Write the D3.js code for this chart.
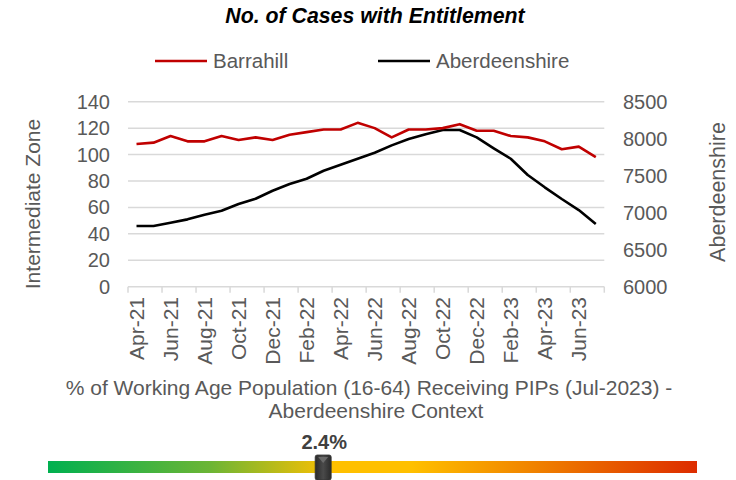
<!DOCTYPE html>
<html>
<head>
<meta charset="utf-8">
<script src="https://cdn.jsdelivr.net/npm/d3@7"></script>
<style>
  html, body { margin: 0; padding: 0; background: #fff; }
  svg { display: block; font-family: "Liberation Sans", Arial, sans-serif; }
</style>
</head>
<body>
<svg id="chart" width="736" height="480"></svg>
<script>
const months = ["Apr-21","May-21","Jun-21","Jul-21","Aug-21","Sep-21","Oct-21","Nov-21","Dec-21","Jan-22","Feb-22","Mar-22",
  "Apr-22","May-22","Jun-22","Jul-22","Aug-22","Sep-22","Oct-22","Nov-22","Dec-22","Jan-23","Feb-23","Mar-23",
  "Apr-23","May-23","Jun-23","Jul-23"];
const barrahill = [108,109,114,110,110,114,111,113,111,115,117,119,119,124,120,113,119,119,120,123,118,118,114,113,110,104,106,98];
const aberdeenshire = [6820,6820,6865,6910,6973,7027,7117,7189,7297,7387,7459,7567,7648,7729,7810,7910,7995,8060,8117,8117,8018,7870,7729,7509,7343,7185,7036,6847];
const leftTicks = [0,20,40,60,80,100,120,140];
const rightTicks = [6000,6500,7000,7500,8000,8500];
const seriesNames = ["Barrahill","Aberdeenshire"];
const contextValue = "2.4%";
const contextFraction = 0.424;

const svg = d3.select("#chart");
const textCol = "#595959";

const x = d3.scaleBand().domain(months).range([128, 604.3]).padding(0);
const yL = d3.scaleLinear().domain([0,140]).range([286.7, 101.7]);
const yR = d3.scaleLinear().domain([6000,8500]).range([286.7, 101.7]);
const cx = m => x(m) + x.bandwidth()/2;

// gridlines
svg.append("g").selectAll("line").data(leftTicks).join("line")
  .attr("x1", 128).attr("x2", 604.3)
  .attr("y1", d => yL(d)).attr("y2", d => yL(d))
  .attr("stroke", "#d9d9d9").attr("stroke-width", 1.5);

// x tick marks at boundaries every 2 categories
const bounds = d3.range(0, months.length + 1, 2);
svg.append("g").selectAll("line").data(bounds).join("line")
  .attr("x1", k => 128 + k * x.bandwidth()).attr("x2", k => 128 + k * x.bandwidth())
  .attr("y1", yL(0)).attr("y2", yL(0) + 6)
  .attr("stroke", "#d9d9d9").attr("stroke-width", 1.5);

// left tick labels
svg.append("g").selectAll("text").data(leftTicks).join("text")
  .attr("x", 110).attr("y", d => yL(d)).attr("dy", "0.35em")
  .attr("text-anchor", "end").attr("font-size", 20).attr("fill", textCol)
  .text(d => d);

// right tick labels
svg.append("g").selectAll("text").data(rightTicks).join("text")
  .attr("x", 623).attr("y", d => yR(d)).attr("dy", "0.35em")
  .attr("text-anchor", "start").attr("font-size", 20).attr("fill", textCol)
  .text(d => d);

// x labels
svg.append("g").selectAll("text").data(months.filter((m,i) => i % 2 === 0)).join("text")
  .attr("transform", m => `translate(${cx(m)},297) rotate(-90)`)
  .attr("dy", "0.35em").attr("text-anchor", "end")
  .attr("font-size", 21).attr("fill", textCol)
  .text(m => m);

// axis titles
svg.append("text").attr("transform", "translate(33,204) rotate(-90)")
  .attr("dy", "0.35em").attr("text-anchor", "middle")
  .attr("font-size", 21).attr("fill", textCol).text("Intermediate Zone");
svg.append("text").attr("transform", "translate(717,192) rotate(-90)")
  .attr("dy", "0.35em").attr("text-anchor", "middle")
  .attr("font-size", 21.5).attr("fill", textCol).text("Aberdeenshire");

// lines
const lineL = d3.line().x((d,i) => cx(months[i])).y(d => yL(d));
const lineR = d3.line().x((d,i) => cx(months[i])).y(d => yR(d));
svg.append("path").datum(aberdeenshire).attr("d", lineR)
  .attr("fill", "none").attr("stroke", "#000").attr("stroke-width", 2.6).attr("stroke-linejoin", "round");
svg.append("path").datum(barrahill).attr("d", lineL)
  .attr("fill", "none").attr("stroke", "#c00000").attr("stroke-width", 2.6).attr("stroke-linejoin", "round");

// title
svg.append("text").attr("x", 375).attr("y", 23).attr("text-anchor", "middle")
  .attr("font-size", 21.3).attr("font-weight", "bold").attr("font-style", "italic")
  .attr("fill", "#000").text("No. of Cases with Entitlement");

// legend
const leg = [{n: seriesNames[0], c: "#c00000", x: 155}, {n: seriesNames[1], c: "#000", x: 378}];
const lg = svg.append("g").selectAll("g").data(leg).join("g");
lg.append("line").attr("x1", d => d.x).attr("x2", d => d.x + 52).attr("y1", 61).attr("y2", 61)
  .attr("stroke", d => d.c).attr("stroke-width", 2.6);
lg.append("text").attr("x", d => d.x + 58).attr("y", 61).attr("dy", "0.35em")
  .attr("font-size", 20.5).attr("fill", textCol).text(d => d.n);

// context subtitle
svg.append("text").attr("x", 369).attr("y", 388).attr("dy", "0.35em").attr("text-anchor", "middle")
  .attr("font-size", 21).attr("fill", textCol)
  .text("% of Working Age Population (16-64) Receiving PIPs (Jul-2023) -");
svg.append("text").attr("x", 376).attr("y", 411).attr("dy", "0.35em").attr("text-anchor", "middle")
  .attr("font-size", 21).attr("fill", textCol)
  .text("Aberdeenshire Context");

// gradient bar
const defs = svg.append("defs");
const grad = defs.append("linearGradient").attr("id", "ctxgrad").attr("x1", "0%").attr("x2", "100%");
[[0,"#00b050"],[0.25,"#6cb535"],[0.44,"#ffc000"],[0.56,"#ffc000"],[0.75,"#f08200"],[1,"#dd2c00"]]
  .forEach(([o,c]) => grad.append("stop").attr("offset", o).attr("stop-color", c));
const mg = defs.append("linearGradient").attr("id", "mkgrad").attr("x1", "0%").attr("x2", "100%");
[[0,"#2a2a2a"],[0.5,"#4a4a4a"],[1,"#2a2a2a"]]
  .forEach(([o,c]) => mg.append("stop").attr("offset", o).attr("stop-color", c));

const bx = d3.scaleLinear().domain([0,1]).range([48, 697]);
svg.append("rect").attr("x", bx(0)).attr("y", 461).attr("width", bx(1) - bx(0)).attr("height", 12)
  .attr("fill", "url(#ctxgrad)");
const mx = bx(contextFraction);
svg.append("rect").attr("x", mx - 8).attr("y", 455).attr("width", 16).attr("height", 25).attr("rx", 2)
  .attr("fill", "url(#mkgrad)").attr("stroke", "#333").attr("stroke-width", 0.8);
svg.append("path").attr("d", `M${mx-5},457 L${mx+5},457 L${mx},463 Z`).attr("fill", "#6a6a6a");
svg.append("text").attr("x", mx + 1).attr("y", 449).attr("text-anchor", "middle")
  .attr("font-size", 20).attr("font-weight", "bold").attr("fill", "#404040").text(contextValue);
</script>
</body>
</html>
